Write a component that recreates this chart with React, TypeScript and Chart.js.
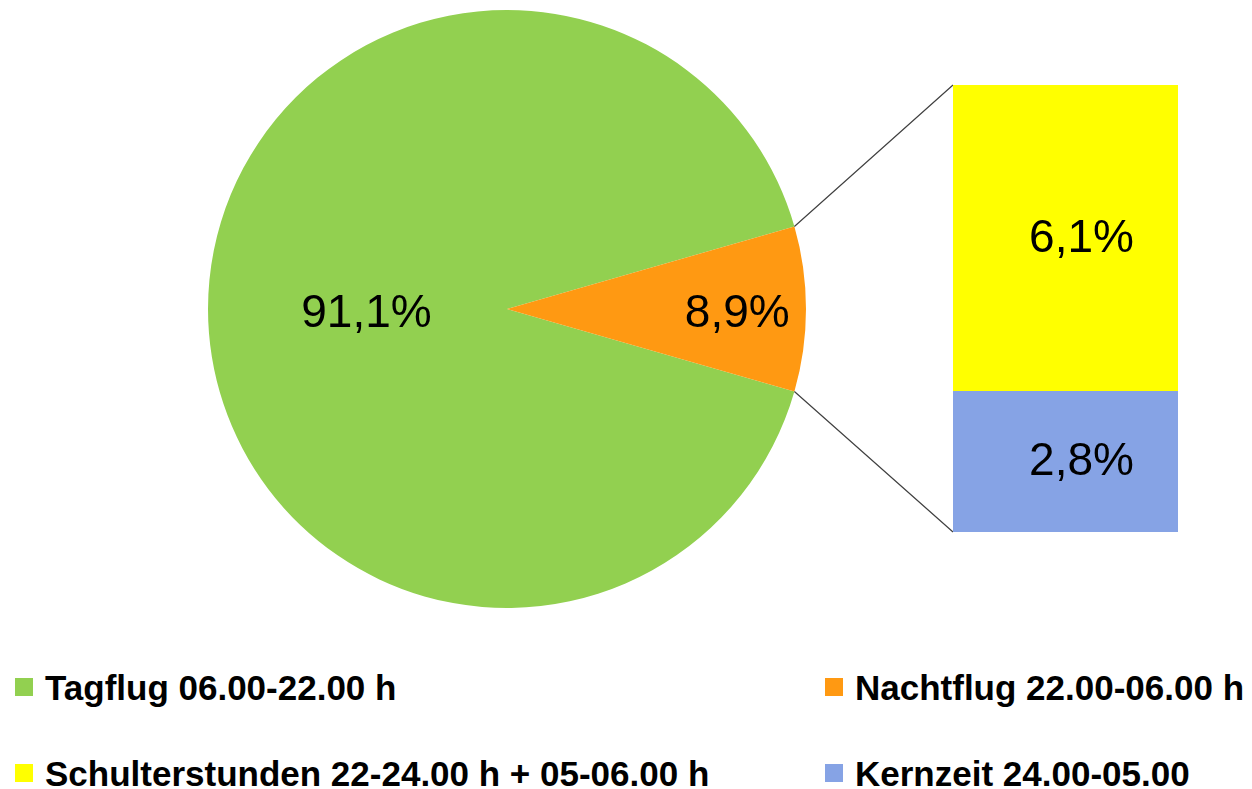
import React, { useEffect, useRef } from "react";
import { Chart, registerables } from "chart.js";

Chart.register(...registerables);

const pieCategories = ["Tagflug 06.00-22.00 h", "Nachtflug 22.00-06.00 h"];
const pieValues = [91.1, 8.9];
const pieLabels = ["91,1%", "8,9%"];
const pieColors = ["#92D050", "#FF9912"];

const barCategories = ["Schulterstunden 22-24.00 h + 05-06.00 h", "Kernzeit 24.00-05.00"];
const barValues = [6.1, 2.8];
const barLabels = ["6,1%", "2,8%"];
const barColors = ["#FFFF00", "#86A3E5"];

const LABEL_FONT = "46px 'Liberation Sans', Arial, sans-serif";
const BAR_LEFT = 953;
const BAR_TOP = 85;
const BAR_W = 225;
const BAR_H = 447;

export default function App() {
  const pieRef = useRef<HTMLCanvasElement | null>(null);
  const barRef = useRef<HTMLCanvasElement | null>(null);

  useEffect(() => {
    const total = barValues.reduce((a, b) => a + b, 0);
    // bottom of stack first: Kernzeit, then Schulterstunden on top
    const order = [1, 0];
    const barChart = new Chart(barRef.current as HTMLCanvasElement, {
      type: "bar",
      data: {
        labels: ["Nachtflug"],
        datasets: order.map((i) => ({
          label: barCategories[i],
          data: [barValues[i]],
          backgroundColor: barColors[i],
          borderWidth: 0,
          barPercentage: 1,
          categoryPercentage: 1,
        })),
      },
      options: {
        responsive: false,
        animation: false,
        layout: { padding: 0 },
        plugins: { legend: { display: false }, tooltip: { enabled: false } },
        scales: {
          x: { display: false, stacked: true },
          y: { display: false, stacked: true, min: 0, max: total },
        },
      },
      plugins: [
        {
          id: "barLabels",
          afterDatasetsDraw(chart: any) {
            const ctx = chart.ctx;
            ctx.save();
            ctx.font = LABEL_FONT;
            ctx.fillStyle = "#000";
            ctx.textAlign = "center";
            ctx.textBaseline = "middle";
            order.forEach((i, di) => {
              const el = chart.getDatasetMeta(di).data[0];
              ctx.fillText(barLabels[i], el.x + 16, (el.y + el.base) / 2 + 1);
            });
            ctx.restore();
          },
        },
      ],
    });

    const rotation = 90 + (pieValues[1] * 3.6) / 2;
    const pieChart = new Chart(pieRef.current as HTMLCanvasElement, {
      type: "pie",
      data: {
        labels: pieCategories,
        datasets: [
          {
            data: pieValues,
            backgroundColor: pieColors,
            borderWidth: 0,
            hoverOffset: 0,
          },
        ],
      },
      options: {
        responsive: false,
        animation: false,
        rotation,
        layout: { padding: { left: 208, top: 10, right: 446, bottom: 12 } },
        plugins: { legend: { display: false }, tooltip: { enabled: false } },
      },
      plugins: [
        {
          id: "pieExtras",
          afterDatasetsDraw(chart: any) {
            const ctx = chart.ctx;
            const meta = chart.getDatasetMeta(0);
            const fr = [0.47, 0.77];
            ctx.save();
            ctx.font = LABEL_FONT;
            ctx.fillStyle = "#000";
            ctx.textAlign = "center";
            ctx.textBaseline = "middle";
            meta.data.forEach((arc: any, i: number) => {
              const mid = (arc.startAngle + arc.endAngle) / 2;
              const r = arc.outerRadius * fr[i];
              ctx.fillText(pieLabels[i], arc.x + Math.cos(mid) * r, arc.y + Math.sin(mid) * r + 5);
            });
            // connector lines from the night slice to the stacked bar
            const night = meta.data[1];
            const topBar = barChart.getDatasetMeta(1).data[0] as any;
            const botBar = barChart.getDatasetMeta(0).data[0] as any;
            const p1x = night.x + Math.cos(night.startAngle) * night.outerRadius;
            const p1y = night.y + Math.sin(night.startAngle) * night.outerRadius;
            const p2x = night.x + Math.cos(night.endAngle) * night.outerRadius;
            const p2y = night.y + Math.sin(night.endAngle) * night.outerRadius;
            const bx = BAR_LEFT + topBar.x - topBar.width / 2;
            ctx.strokeStyle = "#404040";
            ctx.lineWidth = 1.2;
            ctx.beginPath();
            ctx.moveTo(p1x, p1y);
            ctx.lineTo(bx, BAR_TOP + topBar.y);
            ctx.moveTo(p2x, p2y);
            ctx.lineTo(bx, BAR_TOP + botBar.base);
            ctx.stroke();
            ctx.restore();
          },
        },
      ],
    });

    return () => {
      pieChart.destroy();
      barChart.destroy();
    };
  }, []);

  const legendItems = [
    { text: pieCategories[0], color: pieColors[0], x: 15, y: 687 },
    { text: pieCategories[1], color: pieColors[1], x: 825, y: 687 },
    { text: barCategories[0], color: barColors[0], x: 15, y: 773 },
    { text: barCategories[1], color: barColors[1], x: 825, y: 773 },
  ];

  return (
    <div
      style={{
        position: "absolute",
        left: 0,
        top: 0,
        width: 1252,
        height: 789,
        background: "#fff",
        overflow: "hidden",
        fontFamily: "'Liberation Sans', Arial, sans-serif",
      }}
    >
      <canvas
        ref={pieRef}
        width={1252}
        height={620}
        style={{ position: "absolute", left: 0, top: 0, width: 1252, height: 620 }}
      />
      <canvas
        ref={barRef}
        width={BAR_W}
        height={BAR_H}
        style={{ position: "absolute", left: BAR_LEFT, top: BAR_TOP, width: BAR_W, height: BAR_H }}
      />
      {legendItems.map((it, i) => (
        <React.Fragment key={i}>
          <div
            style={{
              position: "absolute",
              left: it.x,
              top: it.y - 9,
              width: 18,
              height: 18,
              background: it.color,
            }}
          />
          <div
            style={{
              position: "absolute",
              left: it.x + 30,
              top: it.y - 19,
              fontSize: 35,
              lineHeight: "40px",
              fontWeight: "bold",
              whiteSpace: "nowrap",
              color: "#000",
            }}
          >
            {it.text}
          </div>
        </React.Fragment>
      ))}
    </div>
  );
}
